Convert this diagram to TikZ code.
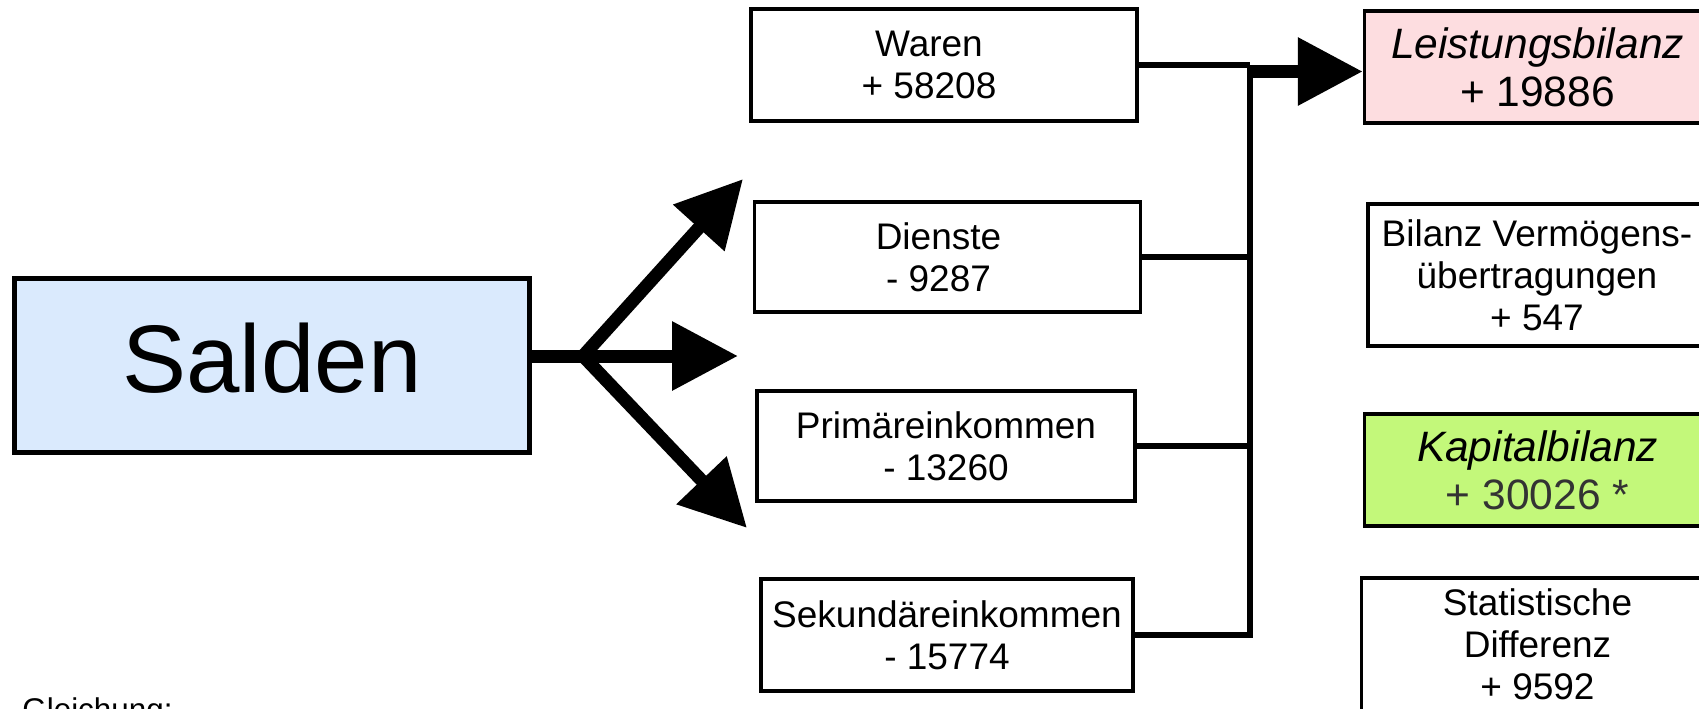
\documentclass[tikz,border=0pt]{standalone}
\usepackage{fontspec}
\setmainfont{Liberation Sans}
\usetikzlibrary{arrows.meta}

\definecolor{saldenblau}{RGB}{218,234,253}
\definecolor{lbrosa}{RGB}{253,221,224}
\definecolor{kbgruen}{RGB}{195,248,122}

\begin{document}
\begin{tikzpicture}[x=0.5pt,y=-0.5pt,
  box/.style={draw, line width=1.75pt, fill=white, align=center, inner sep=0pt,
    font=\fontsize{18.5}{21}\selectfont},
  bigbox/.style={box, font=\fontsize{21.25}{24}\selectfont},
  bus/.style={line width=3pt},
  fat/.style={line width=6.5pt},
  pfeil/.style={-{Triangle[length=33pt,width=33pt]}},
  doppelpfeil/.style={{Triangle[length=33pt,width=33pt]}-{Triangle[length=33pt,width=33pt]}}]
\useasboundingbox (0,0) rectangle (1699,708);
\clip (0,0) rectangle (1699,708);

\node (salden) at (272,365.5) [draw, line width=2.5pt, fill=saldenblau, minimum width=257.5pt,
  minimum height=87pt, inner sep=0pt, text depth=8pt, font=\fontsize{48}{50}\selectfont] {Salden\hspace{8pt}};

\node (waren) at (944,65) [box, minimum width=193pt, minimum height=56pt] {Waren\hspace*{15pt}\\+ 58208\hspace*{15pt}};
\node (dienste) at (947.5,257) [box, minimum width=193pt, minimum height=55pt] {Dienste\hspace*{9pt}\\- 9287\hspace*{9pt}};
\node (primaer) at (946,446) [box, minimum width=189pt, minimum height=55pt] {Primäreinkommen\\- 13260};
\node (sekundaer) at (947,635) [box, minimum width=186pt, minimum height=56pt] {Sekundäreinkommen\\- 15774};

\node (leistung) at (1537.5,67) [bigbox, fill=lbrosa, minimum width=173pt, minimum height=56pt] {\textit{Leistungsbilanz}\\+ 19886};
\node (vermoegen) at (1537,275) [box, minimum width=169pt, minimum height=71pt] {Bilanz Vermögens-\\übertragungen\\+ 547};
\node (kapital) at (1537.5,470) [bigbox, fill=kbgruen, minimum width=173pt, minimum height=56pt] {\textit{Kapitalbilanz}\\\textcolor{black!80}{+ 30026 *}};
\node (statistik) at (1537.5,653) [box, minimum width=176pt, minimum height=75pt, text depth=8.5pt] {Statistische\\Differenz\\+ 9592};

\node (gleichung) at (22,720) [anchor=base west, inner sep=0pt, font=\fontsize{15.7}{18}\selectfont] {Gleichung:};

\coordinate (fork) at (583,356);
\coordinate (tipO) at (743,179);
\coordinate (tipM) at (738,356);
\coordinate (tipU) at (747,528);
\coordinate (bustop) at (1250,65);
\coordinate (lbstart) at (1247,71.5);

\draw[fat, pfeil] (salden.east |- fork) to (tipM);
\draw[fat, doppelpfeil] (tipO) to (fork) to (tipU);

\draw[bus]
(waren.east) to (waren.east -| bustop)
(dienste.east) to (dienste.east -| bustop)
(primaer.east) to (primaer.east -| bustop);
\draw[bus] (sekundaer.east) -| (bustop);
\draw[fat, -{Triangle[length=32.5pt,width=32.5pt]}] (lbstart) to (leistung.west |- lbstart);
\end{tikzpicture}
\end{document}
